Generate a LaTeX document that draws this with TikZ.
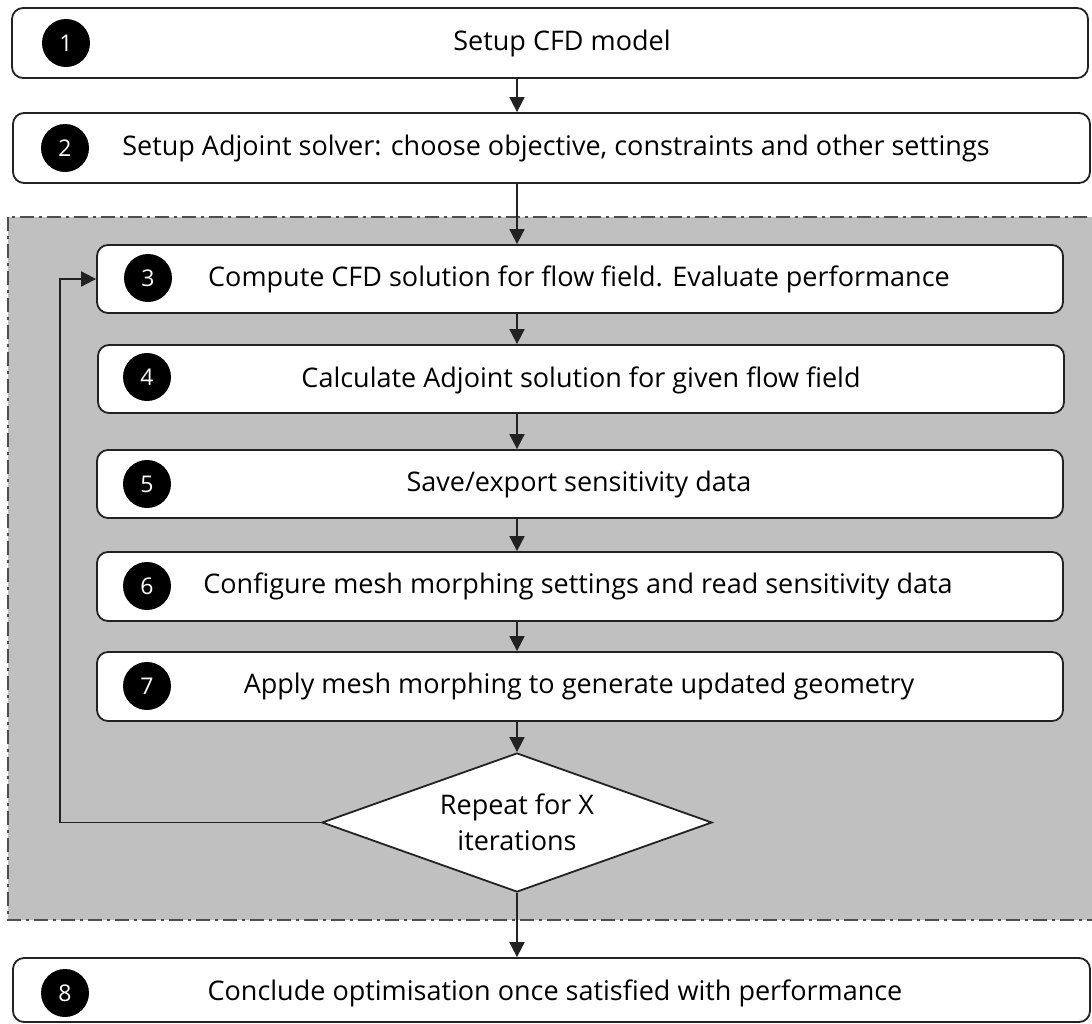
\documentclass[tikz,border=0pt]{standalone}
\usepackage{fontspec}
\setmainfont{Open Sans}
\usetikzlibrary{shapes.geometric,arrows.meta}
\definecolor{linec}{HTML}{222222}
\definecolor{greyfill}{HTML}{C0C0C0}
\begin{document}
\begin{tikzpicture}[x=1pt,y=-1pt,
  stepbox/.style={draw=linec,line width=1.8pt,fill=white,rounded corners=11pt,inner sep=0pt},
  numdot/.style={circle,fill=black,inner sep=0pt,minimum size=48pt,text=white,font=\fontsize{23}{23}\selectfont},
  lbl/.style={inner sep=0pt,text=black,font=\fontsize{27}{36}\selectfont},
  conn/.style={draw=linec,line width=1.8pt,-{Triangle[width=15pt,length=15pt]}},
  plainline/.style={draw=linec,line width=1.8pt}]
\useasboundingbox (0,0) rectangle (1092,1023);
% grey loop region
\draw[fill=greyfill,draw=linec!80,line width=1.4pt,dash pattern=on 14pt off 5pt on 3pt off 5pt] (8,217) rectangle (1100,920);
% boxes
\node[stepbox,minimum width=1076pt,minimum height=70pt] (b1) at (550,43) {};
\node[stepbox,minimum width=1077pt,minimum height=70pt] (b2) at (551.5,148) {};
\node[stepbox,minimum width=966pt,minimum height=68pt] (b3) at (580,279) {};
\node[stepbox,minimum width=966pt,minimum height=68pt] (b4) at (581,379) {};
\node[stepbox,minimum width=966pt,minimum height=68pt] (b5) at (580,484) {};
\node[stepbox,minimum width=966pt,minimum height=69pt] (b6) at (580,586.5) {};
\node[stepbox,minimum width=966pt,minimum height=69pt] (b7) at (580,686.5) {};
\node[stepbox,minimum width=1077pt,minimum height=64pt] (b8) at (551.5,990) {};
% numbers
\node[numdot] (n1) at (66,43) {1};
\node[numdot] (n2) at (65,148) {2};
\node[numdot] (n3) at (148,278) {3};
\node[numdot] (n4) at (147,377) {4};
\node[numdot] (n5) at (147,484) {5};
\node[numdot] (n6) at (147,586) {6};
\node[numdot] (n7) at (147,686) {7};
\node[numdot] (n8) at (65,993) {8};
% texts
\node[lbl] (t1) at (562,43) {Setup CFD model};
\node[lbl] (t2) at (556,148) {Setup Adjoint solver: choose objective, constraints and other settings};
\node[lbl] (t3) at (579,279) {Compute CFD solution for flow field. Evaluate performance};
\node[lbl] (t4) at (581,380) {Calculate Adjoint solution for given flow field};
\node[lbl] (t5) at (579,484) {Save/export sensitivity data};
\node[lbl] (t6) at (578,586) {Configure mesh morphing settings and read sensitivity data};
\node[lbl] (t7) at (579,686) {Apply mesh morphing to generate updated geometry};
\node[lbl] (t8) at (555,993) {Conclude optimisation once satisfied with performance};
% decision
\node[diamond,draw=linec,line width=1.8pt,fill=white,inner sep=0pt,aspect=2.8,minimum width=390pt,minimum height=139pt,
  lbl,align=center] (d) at (517,822.5) {Repeat for X\\iterations};
% connectors
\draw[conn] (b1.south -| d) -- (b2.north -| d);
\draw[conn] (b2.south -| d) -- (b3.north -| d);
\draw[conn] (b3.south -| d) -- (b4.north -| d);
\draw[conn] (b4.south -| d) -- (b5.north -| d);
\draw[conn] (b5.south -| d) -- (b6.north -| d);
\draw[conn] (b6.south -| d) -- (b7.north -| d);
\draw[conn] (b7.south -| d) -- (d.north);
\draw[conn] (d.south) -- (b8.north -| d);
\coordinate (lc) at (60,822.5);
\draw[conn] (d.west) -- (lc) -- (lc |- b3.west) -- (b3.west);
\end{tikzpicture}
\end{document}
